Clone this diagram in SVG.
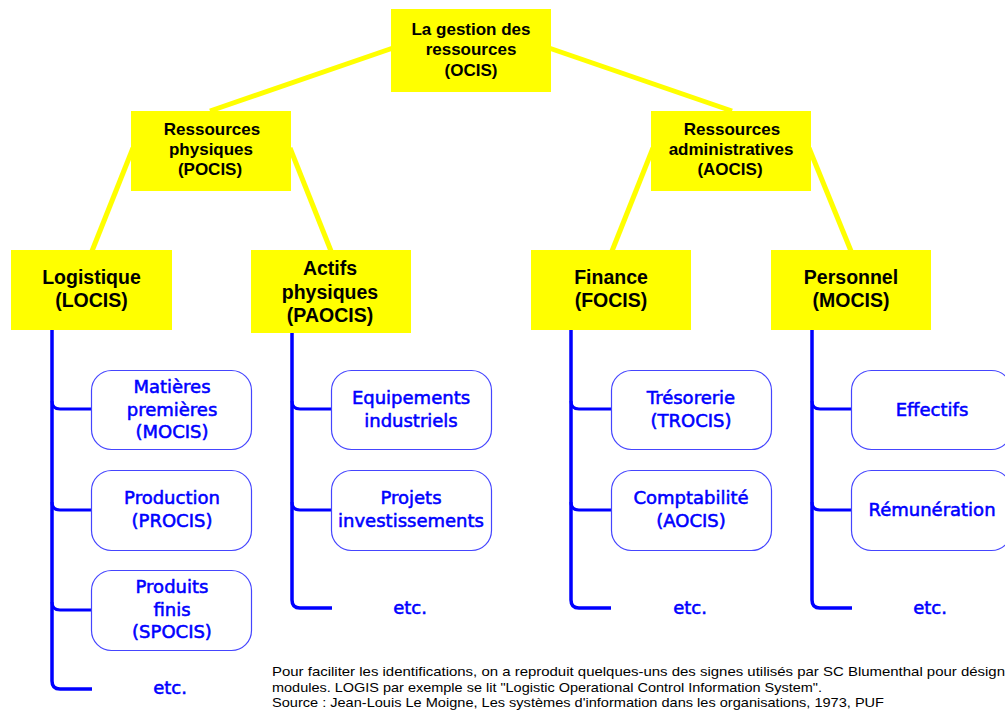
<svg xmlns="http://www.w3.org/2000/svg" width="1005" height="715" viewBox="0 0 1005 715">
  <style>
    .ybox { fill: #ffff00; }
    .ylink { stroke: #ffff00; stroke-width: 5; fill: none; }
    .ytxt { font-family: "Liberation Sans", Arial, sans-serif; font-weight: bold; fill: #000; text-anchor: middle; }
    .t2 { font-size: 17px; }
    .t3 { font-size: 19.5px; }
    .trunk { stroke: #0000ff; stroke-width: 3.5; fill: none; }
    .branch { stroke: #0000ff; stroke-width: 3; fill: none; }
    .bbox { fill: #fff; stroke: #4545ff; stroke-width: 1.2; }
    .btxt { font-family: "DejaVu Sans", Verdana, sans-serif; font-size: 18px; fill: #0000ff; stroke: #0000ff; stroke-width: 0.55; text-anchor: middle; }
    .note { font-family: "Liberation Sans", Arial, sans-serif; font-size: 13px; fill: #000; }
  </style>
  <rect width="1005" height="715" fill="#fff"/>

  <!-- connectors -->
  <g id="connectors">
    <line class="ylink" x1="393" y1="48" x2="210" y2="111"/>
    <line class="ylink" x1="549" y1="48" x2="732" y2="111"/>
    <line class="ylink" x1="133" y1="148" x2="92" y2="251"/>
    <line class="ylink" x1="290" y1="148" x2="331" y2="251"/>
    <line class="ylink" x1="653" y1="148" x2="612" y2="251"/>
    <line class="ylink" x1="809" y1="148" x2="851" y2="251"/>

    <!-- Logistique -->
    <path class="trunk" d="M52,330 V681 Q52,689 60,689 H92"/>
    <path class="branch" d="M52,401 Q52,409 60,409 H92"/>
    <path class="branch" d="M52,502 Q52,510 60,510 H92"/>
    <path class="branch" d="M52,602 Q52,610 60,610 H92"/>
    <!-- Actifs physiques -->
    <path class="trunk" d="M292,333 V600 Q292,608 300,608 H332"/>
    <path class="branch" d="M292,401 Q292,409 300,409 H332"/>
    <path class="branch" d="M292,502 Q292,510 300,510 H332"/>
    <!-- Finance -->
    <path class="trunk" d="M571,330 V600 Q571,608 579,608 H611"/>
    <path class="branch" d="M571,401 Q571,409 579,409 H611"/>
    <path class="branch" d="M571,502 Q571,510 579,510 H611"/>
    <!-- Personnel -->
    <path class="trunk" d="M812,330 V600 Q812,608 820,608 H852"/>
    <path class="branch" d="M812,401 Q812,409 820,409 H852"/>
    <path class="branch" d="M812,502 Q812,510 820,510 H852"/>
  </g>

  <!-- top level -->
  <g id="ocis">
    <rect class="ybox" x="391" y="9" width="160" height="83"/>
    <text class="ytxt t2" x="471" y="35">La gestion des</text>
    <text class="ytxt t2" x="471" y="55">ressources</text>
    <text class="ytxt t2" x="471" y="76">(OCIS)</text>
  </g>

  <!-- second level -->
  <g id="pocis">
    <rect class="ybox" x="131" y="111" width="160" height="80"/>
    <text class="ytxt t2" x="212" y="135">Ressources</text>
    <text class="ytxt t2" x="211" y="155">physiques</text>
    <text class="ytxt t2" x="210" y="175">(POCIS)</text>
  </g>
  <g id="aocis">
    <rect class="ybox" x="651" y="111" width="160" height="80"/>
    <text class="ytxt t2" x="732" y="135">Ressources</text>
    <text class="ytxt t2" x="731" y="155">administratives</text>
    <text class="ytxt t2" x="730" y="175">(AOCIS)</text>
  </g>

  <!-- third level -->
  <g id="locis">
    <rect class="ybox" x="11" y="250" width="161" height="80"/>
    <text class="ytxt t3" x="91.5" y="284">Logistique</text>
    <text class="ytxt t3" x="91.5" y="307">(LOCIS)</text>
  </g>
  <g id="paocis">
    <rect class="ybox" x="251" y="250" width="160" height="83"/>
    <text class="ytxt t3" x="330" y="275">Actifs</text>
    <text class="ytxt t3" x="330" y="299">physiques</text>
    <text class="ytxt t3" x="330" y="322">(PAOCIS)</text>
  </g>
  <g id="focis">
    <rect class="ybox" x="531" y="250" width="160" height="80"/>
    <text class="ytxt t3" x="611" y="284">Finance</text>
    <text class="ytxt t3" x="611" y="307">(FOCIS)</text>
  </g>
  <g id="mocis-personnel">
    <rect class="ybox" x="771" y="250" width="160" height="80"/>
    <text class="ytxt t3" x="851" y="284">Personnel</text>
    <text class="ytxt t3" x="851" y="307">(MOCIS)</text>
  </g>

  <!-- Logistique modules -->
  <g id="matieres">
    <rect class="bbox" x="91.5" y="370.5" width="160" height="79" rx="20"/>
    <text class="btxt" x="172" y="393">Matières</text>
    <text class="btxt" x="172" y="415.5">premières</text>
    <text class="btxt" x="172" y="438">(MOCIS)</text>
  </g>
  <g id="production">
    <rect class="bbox" x="91.5" y="470.5" width="160" height="80" rx="20"/>
    <text class="btxt" x="172" y="504">Production</text>
    <text class="btxt" x="172" y="527">(PROCIS)</text>
  </g>
  <g id="produits-finis">
    <rect class="bbox" x="91.5" y="570.5" width="160" height="80" rx="20"/>
    <text class="btxt" x="172" y="593">Produits</text>
    <text class="btxt" x="172" y="615.5">finis</text>
    <text class="btxt" x="172" y="638">(SPOCIS)</text>
  </g>
  <g id="etc-locis"><text class="btxt" x="170" y="694">etc.</text></g>

  <!-- Actifs physiques modules -->
  <g id="equipements">
    <rect class="bbox" x="331.5" y="370.5" width="160" height="79" rx="20"/>
    <text class="btxt" x="411" y="404">Equipements</text>
    <text class="btxt" x="411" y="427">industriels</text>
  </g>
  <g id="projets">
    <rect class="bbox" x="331.5" y="470.5" width="160" height="80" rx="20"/>
    <text class="btxt" x="411" y="504">Projets</text>
    <text class="btxt" x="411" y="527">investissements</text>
  </g>
  <g id="etc-paocis"><text class="btxt" x="410" y="614">etc.</text></g>

  <!-- Finance modules -->
  <g id="tresorerie">
    <rect class="bbox" x="611.5" y="370.5" width="160" height="79" rx="20"/>
    <text class="btxt" x="691" y="404">Trésorerie</text>
    <text class="btxt" x="691" y="427">(TROCIS)</text>
  </g>
  <g id="comptabilite">
    <rect class="bbox" x="611.5" y="470.5" width="160" height="80" rx="20"/>
    <text class="btxt" x="691" y="504">Comptabilité</text>
    <text class="btxt" x="691" y="527">(AOCIS)</text>
  </g>
  <g id="etc-focis"><text class="btxt" x="690" y="614">etc.</text></g>

  <!-- Personnel modules -->
  <g id="effectifs">
    <rect class="bbox" x="851.5" y="370.5" width="160" height="79" rx="20"/>
    <text class="btxt" x="932" y="416">Effectifs</text>
  </g>
  <g id="remuneration">
    <rect class="bbox" x="851.5" y="470.5" width="160" height="80" rx="20"/>
    <text class="btxt" x="932" y="516">Rémunération</text>
  </g>
  <g id="etc-mocis"><text class="btxt" x="930" y="614">etc.</text></g>

  <!-- source note -->
  <g id="note">
    <text class="note" x="272" y="676" textLength="733" lengthAdjust="spacingAndGlyphs">Pour faciliter les identifications, on a reproduit quelques-uns des signes utilisés par SC Blumenthal pour désign</text>
    <text class="note" x="272" y="691.5" textLength="550" lengthAdjust="spacingAndGlyphs">modules. LOGIS par exemple se lit "Logistic Operational Control Information System".</text>
    <text class="note" x="272" y="707" textLength="612" lengthAdjust="spacingAndGlyphs">Source : Jean-Louis Le Moigne, Les systèmes d'information dans les organisations, 1973, PUF</text>
  </g>
</svg>
